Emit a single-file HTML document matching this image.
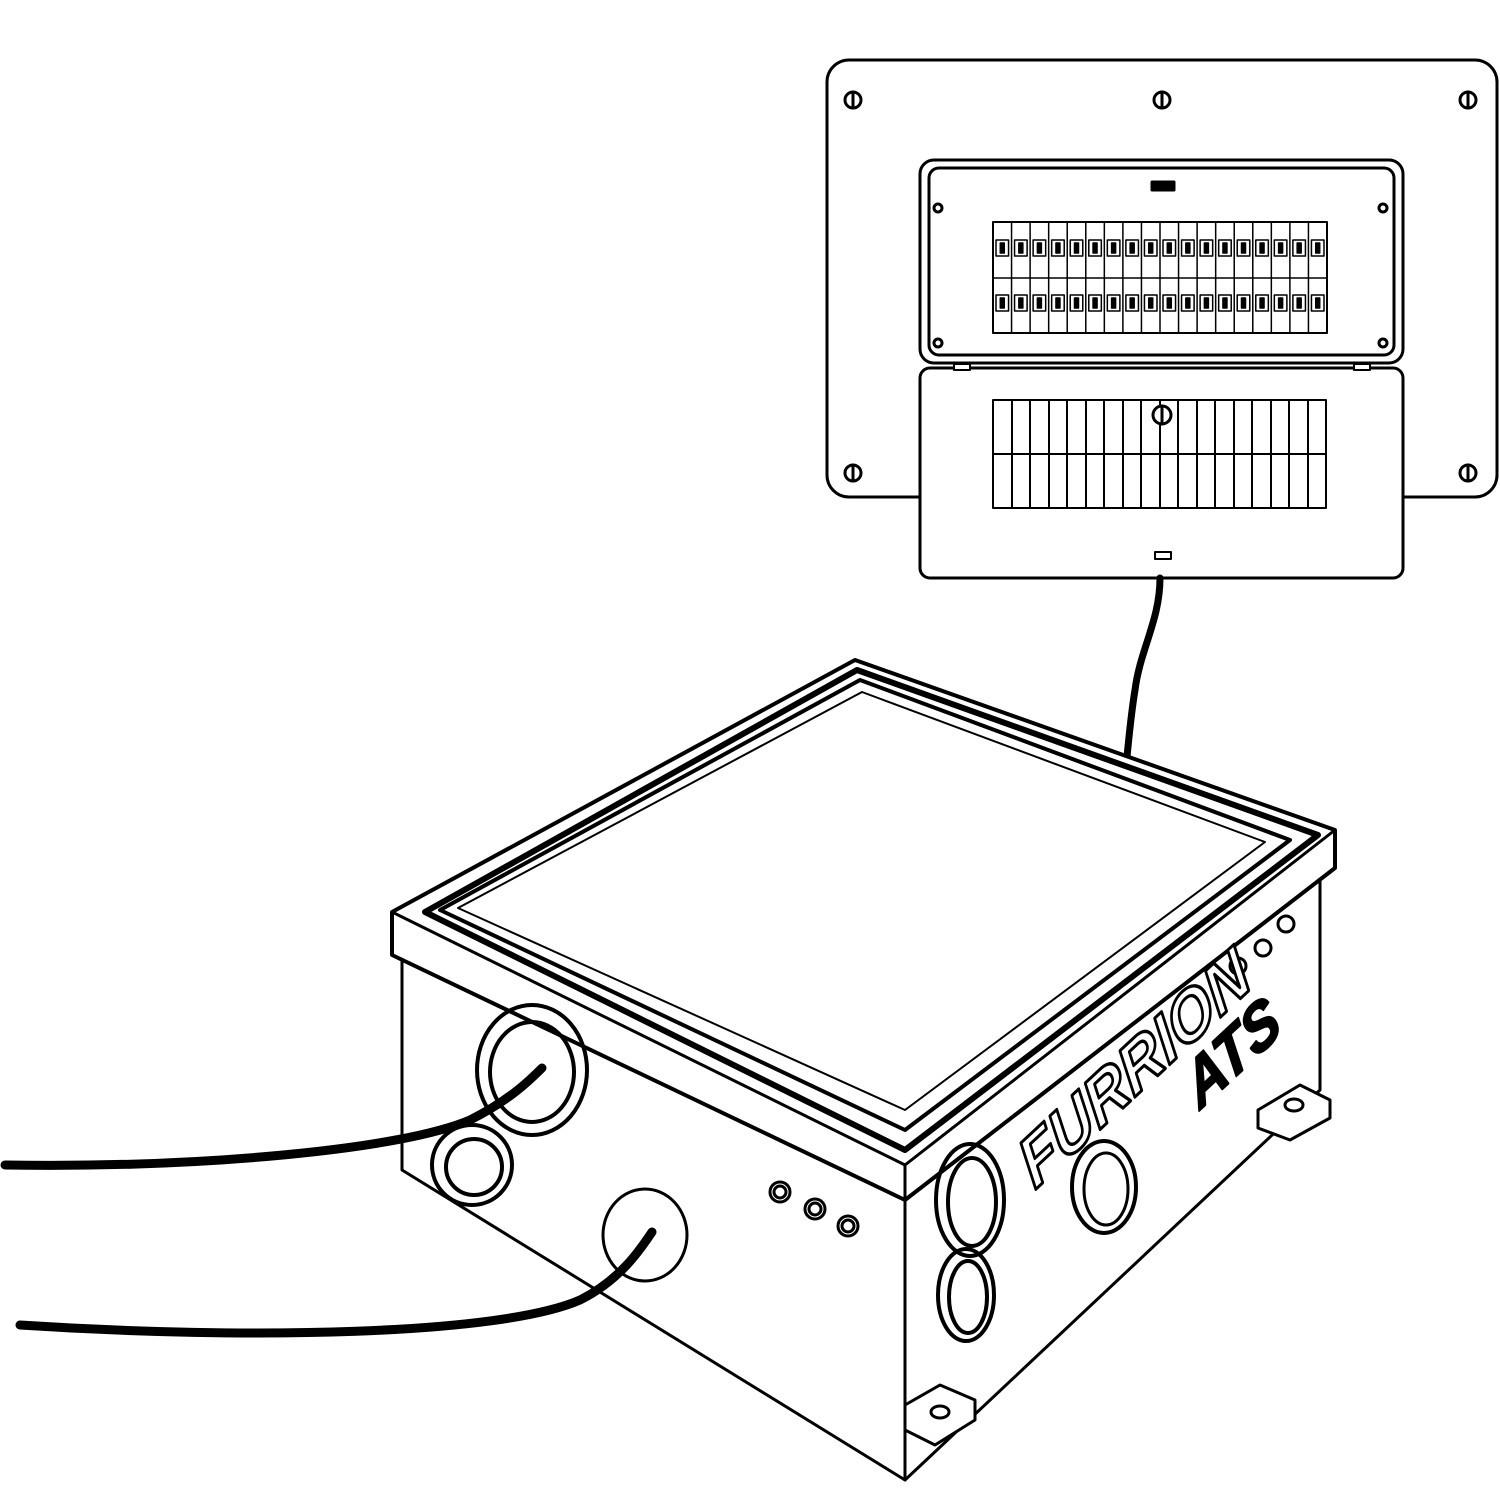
<!DOCTYPE html>
<html><head><meta charset="utf-8"><style>
html,body{margin:0;padding:0;background:#fff}
svg{display:block}
</style></head><body>
<svg width="1500" height="1500" viewBox="0 0 1500 1500" xmlns="http://www.w3.org/2000/svg" fill="none" stroke="#000" stroke-width="3" stroke-linejoin="round" stroke-linecap="round">
<!-- outer panel -->
<rect x="827" y="60" width="670" height="437" rx="22" fill="#fff"/>
<!-- screws -->
<g>
<circle cx="853" cy="100" r="8"/><line x1="853" y1="92" x2="853" y2="108"/>
<circle cx="1162" cy="100" r="8"/><line x1="1162" y1="92" x2="1162" y2="108"/>
<circle cx="1468" cy="100" r="8"/><line x1="1468" y1="92" x2="1468" y2="108"/>
<circle cx="853" cy="473" r="8"/><line x1="853" y1="465" x2="853" y2="481"/>
<circle cx="1468" cy="473" r="8"/><line x1="1468" y1="465" x2="1468" y2="481"/>
</g>
<!-- upper door -->
<rect x="920" y="160" width="483" height="203" rx="14" fill="#fff"/>
<rect x="929" y="168" width="465" height="187" rx="10"/>
<rect x="1152" y="182" width="22" height="8" fill="#000"/>
<circle cx="938" cy="208" r="4"/><circle cx="1383" cy="208" r="4"/>
<circle cx="938" cy="343" r="4"/><circle cx="1383" cy="343" r="4"/>
<rect x="993" y="222" width="334" height="111" stroke-width="2"/>
<g stroke-width="1.5" id="brk"></g>
<!-- lower door -->
<rect x="920" y="368" width="483" height="210" rx="10" fill="#fff"/>
<rect x="954" y="364" width="16" height="6" stroke-width="2" fill="#fff"/>
<rect x="1354" y="364" width="16" height="6" stroke-width="2" fill="#fff"/>
<rect x="993" y="400" width="333" height="108" stroke-width="2"/>
<line x1="993" y1="454" x2="1326" y2="454" stroke-width="2"/>
<g stroke-width="2">
<line x1="1012" y1="400" x2="1012" y2="508"/><line x1="1030" y1="400" x2="1030" y2="508"/><line x1="1049" y1="400" x2="1049" y2="508"/><line x1="1067" y1="400" x2="1067" y2="508"/><line x1="1086" y1="400" x2="1086" y2="508"/><line x1="1104" y1="400" x2="1104" y2="508"/><line x1="1123" y1="400" x2="1123" y2="508"/><line x1="1141" y1="400" x2="1141" y2="508"/><line x1="1160" y1="400" x2="1160" y2="508"/><line x1="1178" y1="400" x2="1178" y2="508"/><line x1="1197" y1="400" x2="1197" y2="508"/><line x1="1215" y1="400" x2="1215" y2="508"/><line x1="1234" y1="400" x2="1234" y2="508"/><line x1="1252" y1="400" x2="1252" y2="508"/><line x1="1271" y1="400" x2="1271" y2="508"/><line x1="1289" y1="400" x2="1289" y2="508"/><line x1="1308" y1="400" x2="1308" y2="508"/>
</g>
<circle cx="1162" cy="415" r="9" fill="#fff"/><line x1="1162" y1="406" x2="1162" y2="424"/>
<rect x="1155" y="552" width="16" height="7" stroke-width="2"/>
<!-- cable from panel -->
<path d="M1160 578 C1160 620 1140 650 1135 690 C1130 720 1128 750 1125 775" stroke-width="7"/>

<!-- box body -->
<path d="M402 960 L402 1170 L905 1480 L1320 1090 L1320 880" fill="#fff"/>
<line x1="905" y1="1200" x2="905" y2="1480"/>
<!-- tabs -->
<path d="M905 1405 L940 1385 L975 1400 L975 1420 L935 1445 L905 1430 Z" fill="#fff"/>
<ellipse cx="940" cy="1412" rx="9" ry="6"/>
<path d="M1258 1110 L1300 1085 L1330 1100 L1330 1118 L1290 1140 L1258 1128 Z" fill="#fff"/>
<ellipse cx="1294" cy="1105" rx="9" ry="6"/>
<!-- lid rim -->
<path d="M392 912 L855 660 L1335 830 L1335 868 L905 1200 L392 955 Z" fill="#fff" stroke-width="4"/>
<path d="M392 912 L905 1165 L1335 830" stroke-width="3"/>
<line x1="905" y1="1165" x2="905" y2="1200"/>
<!-- lid top layers -->
<path d="M425 912 L857 670 L1318 835 L905 1150 Z" stroke-width="6"/>
<path d="M440 910 L860 680 L1290 840 L905 1130 Z" stroke-width="4"/>
<path d="M458 908 L862 692 L1265 842 L905 1110 Z" stroke-width="2"/>
<!-- holes left face -->
<ellipse cx="532" cy="1070" rx="55" ry="65" stroke-width="4"/>
<ellipse cx="532" cy="1072" rx="42" ry="50" stroke-width="4"/>
<ellipse cx="472" cy="1165" rx="40" ry="40" stroke-width="4"/>
<ellipse cx="474" cy="1167" rx="28" ry="28" stroke-width="4"/>
<ellipse cx="645" cy="1235" rx="42" ry="46" stroke-width="3"/>
<circle cx="780" cy="1192" r="10"/><circle cx="780" cy="1192" r="6"/>
<circle cx="815" cy="1209" r="10"/><circle cx="815" cy="1209" r="6"/>
<circle cx="848" cy="1226" r="10"/><circle cx="848" cy="1226" r="6"/>
<!-- holes right face -->
<ellipse cx="970" cy="1200" rx="34" ry="56" stroke-width="4"/>
<ellipse cx="972" cy="1202" rx="24" ry="44" stroke-width="4"/>
<ellipse cx="966" cy="1295" rx="28" ry="46" stroke-width="4"/>
<ellipse cx="968" cy="1297" rx="19" ry="36" stroke-width="4"/>
<ellipse cx="1104" cy="1187" rx="32" ry="46" stroke-width="4"/>
<ellipse cx="1106" cy="1189" rx="22" ry="36" stroke-width="3"/>
<circle cx="1238" cy="966" r="8"/><circle cx="1263" cy="948" r="8"/><circle cx="1286" cy="924" r="8"/>
<!-- logo -->
<g transform="translate(1035,1190) rotate(-43) skewX(-15)">
<text x="0" y="0" font-family="Liberation Sans, sans-serif" font-size="64" font-weight="bold" font-style="italic" stroke="#000" stroke-width="3" fill="#fff" textLength="300" lengthAdjust="spacingAndGlyphs">FURRION</text>
</g>
<g transform="translate(1200,1110) rotate(-43) skewX(-15)">
<text x="0" y="0" font-family="Liberation Sans, sans-serif" font-size="60" font-weight="bold" font-style="italic" fill="#000" stroke="#000" stroke-width="2">ATS</text>
</g>
<!-- cables in -->
<path d="M5 1165 C200 1168 400 1150 470 1120 C510 1100 530 1080 542 1068" stroke-width="9"/>
<path d="M20 1325 C250 1340 500 1335 580 1300 C620 1280 640 1250 652 1232" stroke-width="9"/>
</svg>
<script>
(function(){
var g=document.getElementById('brk');var ns='http://www.w3.org/2000/svg';
var x0=993,w=334,n=18,cw=w/n;
function L(a,b,c,d){var l=document.createElementNS(ns,'line');l.setAttribute('x1',a);l.setAttribute('y1',b);l.setAttribute('x2',c);l.setAttribute('y2',d);g.appendChild(l);}
function R(x,y,ww,hh,f){var r=document.createElementNS(ns,'rect');r.setAttribute('x',x);r.setAttribute('y',y);r.setAttribute('width',ww);r.setAttribute('height',hh);if(f)r.setAttribute('fill','#000');g.appendChild(r);}
for(var i=1;i<n;i++){L(x0+i*cw,222,x0+i*cw,333);}
L(993,278,1327,278);
for(var i=0;i<n;i++){var x=x0+i*cw;
R(x+3,240,cw-6,16,false);R(x+cw/2-2,243,4,10,true);
R(x+3,295,cw-6,16,false);R(x+cw/2-2,298,4,10,true);}
})();
</script>
</body></html>
